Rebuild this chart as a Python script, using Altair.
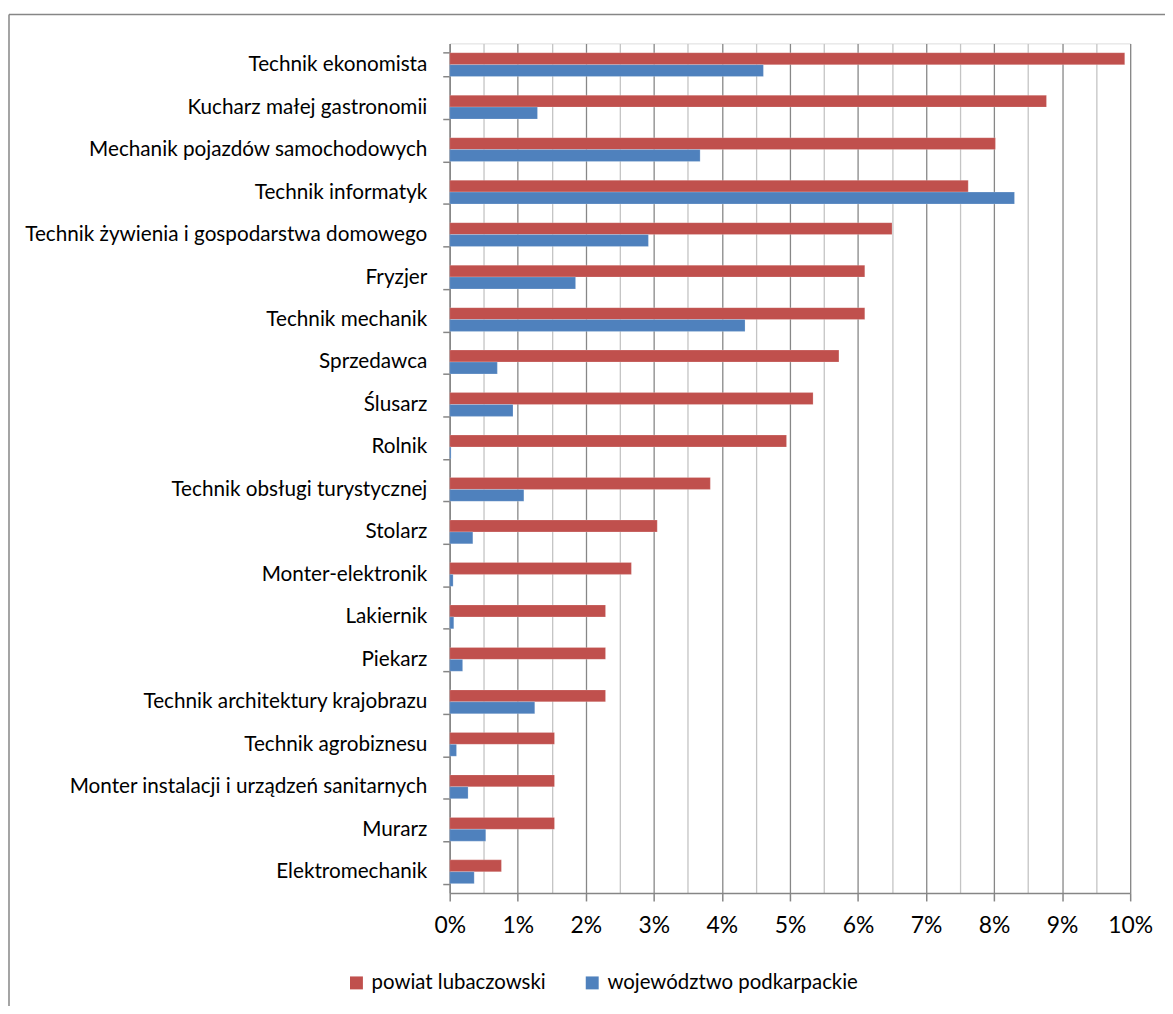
import altair as alt
import pandas as pd

categories = [
    "Technik ekonomista",
    "Kucharz małej gastronomii",
    "Mechanik pojazdów samochodowych",
    "Technik informatyk",
    "Technik żywienia i gospodarstwa domowego",
    "Fryzjer",
    "Technik mechanik",
    "Sprzedawca",
    "Ślusarz",
    "Rolnik",
    "Technik obsługi turystycznej",
    "Stolarz",
    "Monter-elektronik",
    "Lakiernik",
    "Piekarz",
    "Technik architektury krajobrazu",
    "Technik agrobiznesu",
    "Monter instalacji i urządzeń sanitarnych",
    "Murarz",
    "Elektromechanik",
]
powiat = [9.92, 8.77, 8.02, 7.62, 6.50, 6.10, 6.10, 5.72, 5.34, 4.95,
          3.83, 3.05, 2.67, 2.29, 2.29, 2.29, 1.54, 1.54, 1.54, 0.76]
wojewodztwo = [4.61, 1.29, 3.68, 8.30, 2.92, 1.85, 4.34, 0.70, 0.93, 0.02,
               1.09, 0.34, 0.05, 0.06, 0.19, 1.25, 0.10, 0.27, 0.53, 0.36]
series = ["powiat lubaczowski", "województwo podkarpackie"]
colors = ["#C0504D", "#4F81BD"]
grid_values = [0, 0.5, 1, 1.5, 2, 2.5, 3, 3.5, 4, 4.5, 5, 5.5, 6, 6.5, 7, 7.5,
               8, 8.5, 9, 9.5, 10]

rows = []
for c, a, b in zip(categories, powiat, wojewodztwo):
    rows.append({"zawod": c, "seria": series[0], "wartosc": a})
    rows.append({"zawod": c, "seria": series[1], "wartosc": b})
df = pd.DataFrame(rows)

FONT = "Lato"
W, H = 684, 854

bars = alt.Chart(df).mark_bar(stroke="white", strokeWidth=0.5, strokeOpacity=0.4).encode(
    y=alt.Y(
        "zawod:N",
        sort=categories,
        scale=alt.Scale(paddingInner=0.44, paddingOuter=0.22),
        axis=alt.Axis(
            title=None,
            labelFont=FONT,
            labelFontSize=20.8,
            labelColor="#000000",
            labelPadding=16,
            labelLimit=600,
            tickBand="extent",
            tickColor="#868686",
            tickSize=7,
            tickWidth=1.5,
            domainColor="#868686",
            domainWidth=1.5,
            grid=False,
        ),
    ),
    yOffset=alt.YOffset("seria:N", sort=series, scale=alt.Scale(paddingInner=0, paddingOuter=0)),
    x=alt.X(
        "wartosc:Q",
        scale=alt.Scale(domain=[0, 10], nice=False, zero=True),
        axis=alt.Axis(
            title=None,
            values=grid_values,
            labelExpr="datum.value % 1 === 0 ? datum.value + '%' : ''",
            labelFont=FONT,
            labelFontSize=23,
            labelColor="#000000",
            labelPadding=14,
            labelFlush=False,
            labelOverlap=False,
            tickSize=8,
            tickWidth=1.5,
            tickColor="#868686",
            tickOpacity={"condition": {"test": "datum.value % 1 === 0", "value": 1}, "value": 0},
            domainColor="#868686",
            domainWidth=1.5,
            grid=True,
            gridColor={"condition": {"test": "datum.value % 1 === 0", "value": "#878787"}, "value": "#C4C4C4"},
            gridWidth=1.3,
        ),
    ),
    color=alt.Color(
        "seria:N",
        sort=series,
        scale=alt.Scale(domain=series, range=colors),
        legend=alt.Legend(
            title=None,
            orient="none",
            direction="horizontal",
            legendX=-104,
            legendY=934,
            symbolType="square",
            symbolSize=169,
            symbolStrokeWidth=0,
            symbolOpacity=1,
            labelFont=FONT,
            labelFontSize=20.5,
            labelColor="#000000",
            labelOffset=5,
            labelLimit=400,
            columnPadding=36,
        ),
    ),
)

frame_top = alt.Chart(pd.DataFrame({"k": [0]})).mark_rule(
    stroke="#868686", strokeWidth=1.5
).encode(x=alt.value(-443), x2=alt.value(725), y=alt.value(-29))

frame_left = alt.Chart(pd.DataFrame({"k": [0]})).mark_rule(
    stroke="#868686", strokeWidth=1.5
).encode(x=alt.value(-443), y=alt.value(-29), y2=alt.value(970))

chart = alt.layer(bars, frame_top, frame_left).properties(
    width=W,
    height=H,
    autosize=alt.AutoSizeParams(type="none"),
    padding={"left": 444, "top": 33, "right": 35, "bottom": 111},
).configure_view(stroke=None).configure(background="white")

chart.save("out.html", embed_options={"renderer": "svg", "actions": False})
